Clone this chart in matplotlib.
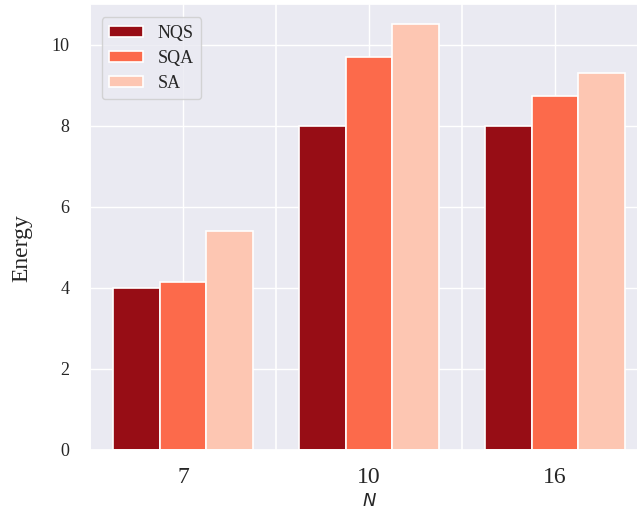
import matplotlib
matplotlib.use("Agg")
import matplotlib.pyplot as plt
from matplotlib import font_manager
import seaborn as sns
import numpy as np
import os

categories = ["7", "10", "16"]
series_names = ["NQS", "SQA", "SA"]
nqs = [4.0, 8.0, 8.0]
sqa = [4.15, 9.7, 8.72]
sa = [5.4, 10.5, 9.3]
colors = ["#970d15", "#fc6a4b", "#fdc6b2"]
yticks = [0, 2, 4, 6, 8, 10]

sns.set_theme(style="darkgrid")
fam = "DejaVu Serif"
fpath = "/usr/share/fonts/truetype/liberation/LiberationSerif-Regular.ttf"
if os.path.exists(fpath):
    font_manager.fontManager.addfont(fpath)
    fam = font_manager.FontProperties(fname=fpath).get_name()
plt.rcParams['font.family'] = [fam, 'DejaVu Serif']
plt.rcParams['mathtext.fontset'] = 'dejavusans'

fig = plt.figure(figsize=(6.37, 5.09), dpi=100)
ax = fig.add_axes([90/637, 1-450/509, 558/637, 446/509])

x = np.arange(len(categories))
width = 0.25
for i, (name, vals) in enumerate(zip(series_names, [nqs, sqa, sa])):
    ax.bar(x + (i - 1) * width, vals, width=width, color=colors[i],
           edgecolor="white", linewidth=1.2, label=name)

ax.set_xlim(-0.5, 2.5)
ax.set_ylim(0, 11.0)
ax.set_xticks(x)
ax.set_xticklabels(categories, fontsize=17)
ax.set_xticks([-0.5, 0.5, 1.5, 2.5], minor=True)
ax.grid(True, which="minor", axis="x", color="white", linewidth=1.2)
ax.set_yticks(yticks)
ax.set_yticklabels([str(v) for v in yticks], fontsize=13)
ax.tick_params(axis='x', pad=6)
ax.tick_params(axis='y', pad=9)
ax.set_ylabel("Energy", fontsize=17)
ax.yaxis.set_label_coords(-0.104, 0.453)
ax.set_xlabel("$N$", fontsize=13)

leg = ax.legend(loc="upper left", fontsize=13, bbox_to_anchor=(0.005, 0.99),
                handlelength=1.9, handleheight=0.6, borderpad=0.4, labelspacing=0.45)

fig.savefig("out.png", dpi=100)
